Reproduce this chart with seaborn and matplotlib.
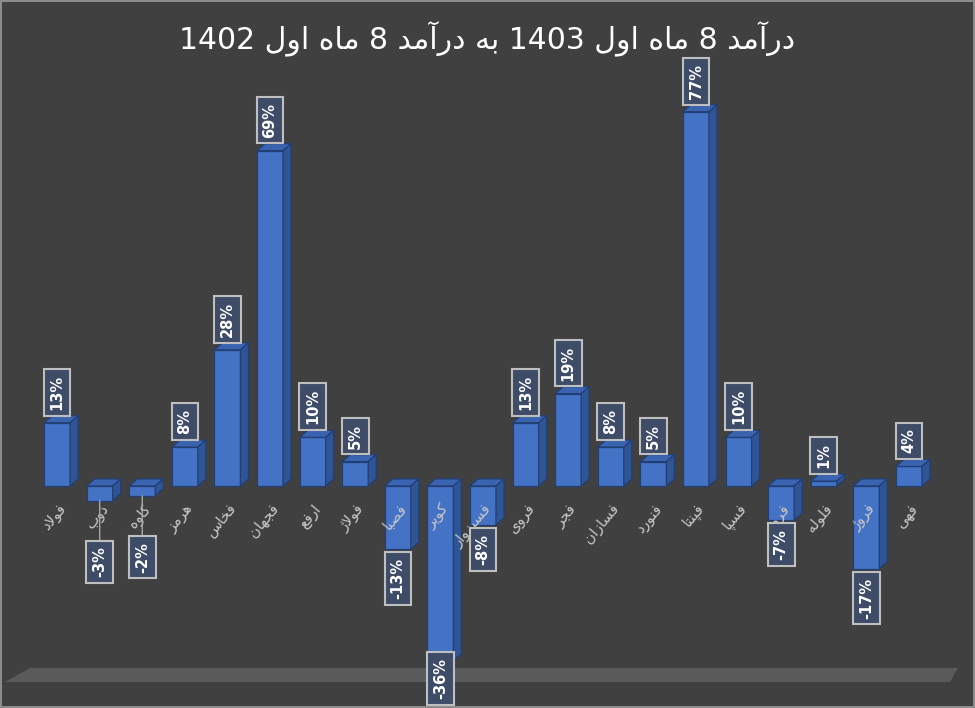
import matplotlib
matplotlib.use("Agg")
import matplotlib.pyplot as plt
from matplotlib.patches import Polygon
import seaborn as sns
import pandas as pd

# ---------- data ----------
title = "درآمد 8 ماه اول 1403 به درآمد 8 ماه اول 1402"
symbols = ["فولاد", "ذوب", "کاوه", "هرمز", "فخاس", "فجهان", "ارفع", "فولاژ",
           "فصبا", "کویر", "فسبزوار", "فروی", "فجر", "فسازان", "فنورد",
           "فپنتا", "فسپا", "فرود", "فلوله", "فروژ", "فهی"]
growth = [13, -3, -2, 8, 28, 69, 10, 5, -13, -36, -8, 13, 19, 8, 5, 77, 10, -7, 1, -17, 4]

# ---------- tiny persian shaper (matplotlib has no bidi / joining) ----------
FORMS = {
    "ا": ("\ufe8d", "\ufe8e"), "آ": ("\ufe81", "\ufe82"),
    "د": ("\ufea9", "\ufeaa"), "ذ": ("\ufeab", "\ufeac"),
    "ر": ("\ufead", "\ufeae"), "ز": ("\ufeaf", "\ufeb0"),
    "ژ": ("\ufb8a", "\ufb8b"), "و": ("\ufeed", "\ufeee"),
    "ب": ("\ufe8f", "\ufe90", "\ufe91", "\ufe92"),
    "پ": ("\ufb56", "\ufb57", "\ufb58", "\ufb59"),
    "ت": ("\ufe95", "\ufe96", "\ufe97", "\ufe98"),
    "ج": ("\ufe9d", "\ufe9e", "\ufe9f", "\ufea0"),
    "خ": ("\ufea5", "\ufea6", "\ufea7", "\ufea8"),
    "س": ("\ufeb1", "\ufeb2", "\ufeb3", "\ufeb4"),
    "ص": ("\ufeb9", "\ufeba", "\ufebb", "\ufebc"),
    "ع": ("\ufec9", "\ufeca", "\ufecb", "\ufecc"),
    "ف": ("\ufed1", "\ufed2", "\ufed3", "\ufed4"),
    "ک": ("\ufb8e", "\ufb8f", "\ufb90", "\ufb91"),
    "ل": ("\ufedd", "\ufede", "\ufedf", "\ufee0"),
    "م": ("\ufee1", "\ufee2", "\ufee3", "\ufee4"),
    "ن": ("\ufee5", "\ufee6", "\ufee7", "\ufee8"),
    "ه": ("\ufee9", "\ufeea", "\ufeeb", "\ufeec"),
    "ی": ("\ufbfc", "\ufbfd", "\ufbfe", "\ufbff"),
}
LAM_ALEF = {"ا": ("\ufefb", "\ufefc"), "آ": ("\ufef5", "\ufef6")}


def shape(word):
    res = []
    i = 0
    while i < len(word):
        c = word[i]
        if c not in FORMS:
            res.append(c)
            i += 1
            continue
        prev = word[i - 1] if i > 0 else None
        prev_joins = prev in FORMS and len(FORMS[prev]) == 4
        if c == "ل" and i + 1 < len(word) and word[i + 1] in LAM_ALEF:
            res.append(LAM_ALEF[word[i + 1]][1 if prev_joins else 0])
            i += 2
            continue
        nxt = word[i + 1] if i + 1 < len(word) else None
        next_joins = len(FORMS[c]) == 4 and nxt in FORMS
        f = FORMS[c]
        if prev_joins and next_joins:
            res.append(f[3])
        elif prev_joins:
            res.append(f[1])
        elif next_joins:
            res.append(f[2])
        else:
            res.append(f[0])
        i += 1
    return "".join(res)


def rtl(text):
    words = text.split(" ")
    out = [shape(w)[::-1] if any(ch in FORMS for ch in w) else w for w in words]
    return " ".join(reversed(out))


# ---------- style ----------
bg = "#404040"
sns.set_theme(style="dark", rc={"figure.facecolor": bg, "axes.facecolor": bg})
plt.rcParams["font.family"] = ["DejaVu Sans"]

front = "#4472C4"
side = "#2F5597"
top_c = "#3A64B0"
edge = "#223F75"

df = pd.DataFrame({"symbol": symbols, "growth": growth})

fig = plt.figure(figsize=(9.75, 7.08), dpi=100)
fig.patch.set_edgecolor("#8C8C8C")
fig.patch.set_linewidth(1.5)
ax = fig.add_axes([0, 0, 1, 1])
ax.set_facecolor("none")

# floor of the 3d plot (under everything else in the axes)
W, H = 975, 708
floor = [(5, 682), (30, 668), (958, 668), (950, 682)]
ax.add_patch(Polygon([(a / W, 1 - b / H) for a, b in floor], closed=True,
                     transform=fig.transFigure, facecolor="#5A5A5A",
                     edgecolor="none", zorder=0))

sns.barplot(data=df, x="symbol", y="growth", order=symbols, color=front,
            saturation=1, width=0.61, edgecolor=edge, linewidth=0.9, ax=ax)

ax.set_xlim(-1.34, 21.55)
ax.set_ylim(-45.7, 100)

# 3D depth of the bars, in pixels -> data units
inv = ax.transData.inverted()
p0 = inv.transform((0, 0))
p1 = inv.transform((8, 7))
ddx, ddy = p1[0] - p0[0], p1[1] - p0[1]

bars = [p for p in ax.patches if p.get_zorder() > 0]
for p in bars:
    x, w = p.get_x(), p.get_width()
    y, h = p.get_y(), p.get_height()
    top, bot = max(y, y + h), min(y, y + h)
    ax.add_patch(Polygon([(x, top), (x + ddx, top + ddy), (x + w + ddx, top + ddy), (x + w, top)],
                         closed=True, facecolor=top_c, edgecolor=edge, linewidth=0.9, zorder=2))
    ax.add_patch(Polygon([(x + w, bot), (x + w, top), (x + w + ddx, top + ddy), (x + w + ddx, bot + ddy)],
                         closed=True, facecolor=side, edgecolor=edge, linewidth=0.9, zorder=2))

# value labels in boxes
box = dict(boxstyle="square,pad=0.4", facecolor="#3E4C68", edgecolor="#BFBFBF", linewidth=1.5)
labels = []
for p, v in zip(bars, growth):
    cx = p.get_x() + p.get_width() / 2
    top = max(p.get_y(), p.get_y() + p.get_height())
    bot = min(p.get_y(), p.get_y() + p.get_height())
    if v >= 0:
        t = ax.annotate(f"{v}%", xy=(cx, top), xytext=(0, 13), textcoords="offset pixels",
                        rotation=90, ha="center", va="bottom", color="white", fontsize=10.5,
                        fontweight="bold", bbox=box, zorder=6)
    elif v > -5:
        t = ax.annotate(f"{v}%", xy=(cx, bot), xytext=(0, -46), textcoords="offset pixels",
                        rotation=90, ha="center", va="top", color="white", fontsize=10.5,
                        fontweight="bold", bbox=box, zorder=6,
                        arrowprops=dict(arrowstyle="-", color="#A6A6A6", lw=1, shrinkA=0, shrinkB=0))
    else:
        t = ax.annotate(f"{v}%", xy=(cx, bot), xytext=(0, -9), textcoords="offset pixels",
                        rotation=90, ha="center", va="top", color="white", fontsize=10.5,
                        fontweight="bold", bbox=box, zorder=6)
    labels.append(t)

# category labels sit just under the zero line, drawn over the bars
ax.spines["bottom"].set_position(("data", 0))
for s in ax.spines.values():
    s.set_visible(False)
ax.set_xticks(range(len(symbols)))
ax.set_xticklabels([rtl(s) for s in symbols], rotation=50, ha="right",
                   rotation_mode="anchor", color="#C8C8C8", fontsize=10.5)
ax.tick_params(axis="x", length=0, pad=11)
ax.xaxis.set_zorder(5)
ax.set_yticks([])
ax.set_xlabel("")
ax.set_ylabel("")

# keep the boxes inside the picture (the deepest one would fall off the bottom)
fig.canvas.draw()
renderer = fig.canvas.get_renderer()
for t in labels:
    bb = t.get_bbox_patch().get_window_extent(renderer)
    if bb.y0 < 3:
        ox, oy = t.xyann
        t.xyann = (ox, oy + (3 - bb.y0))

fig.text(0.5, 0.945, rtl(title), ha="center", va="center", color="white", fontsize=21.5)

plt.savefig("out.png", dpi=100, facecolor=bg, edgecolor="#8C8C8C")
